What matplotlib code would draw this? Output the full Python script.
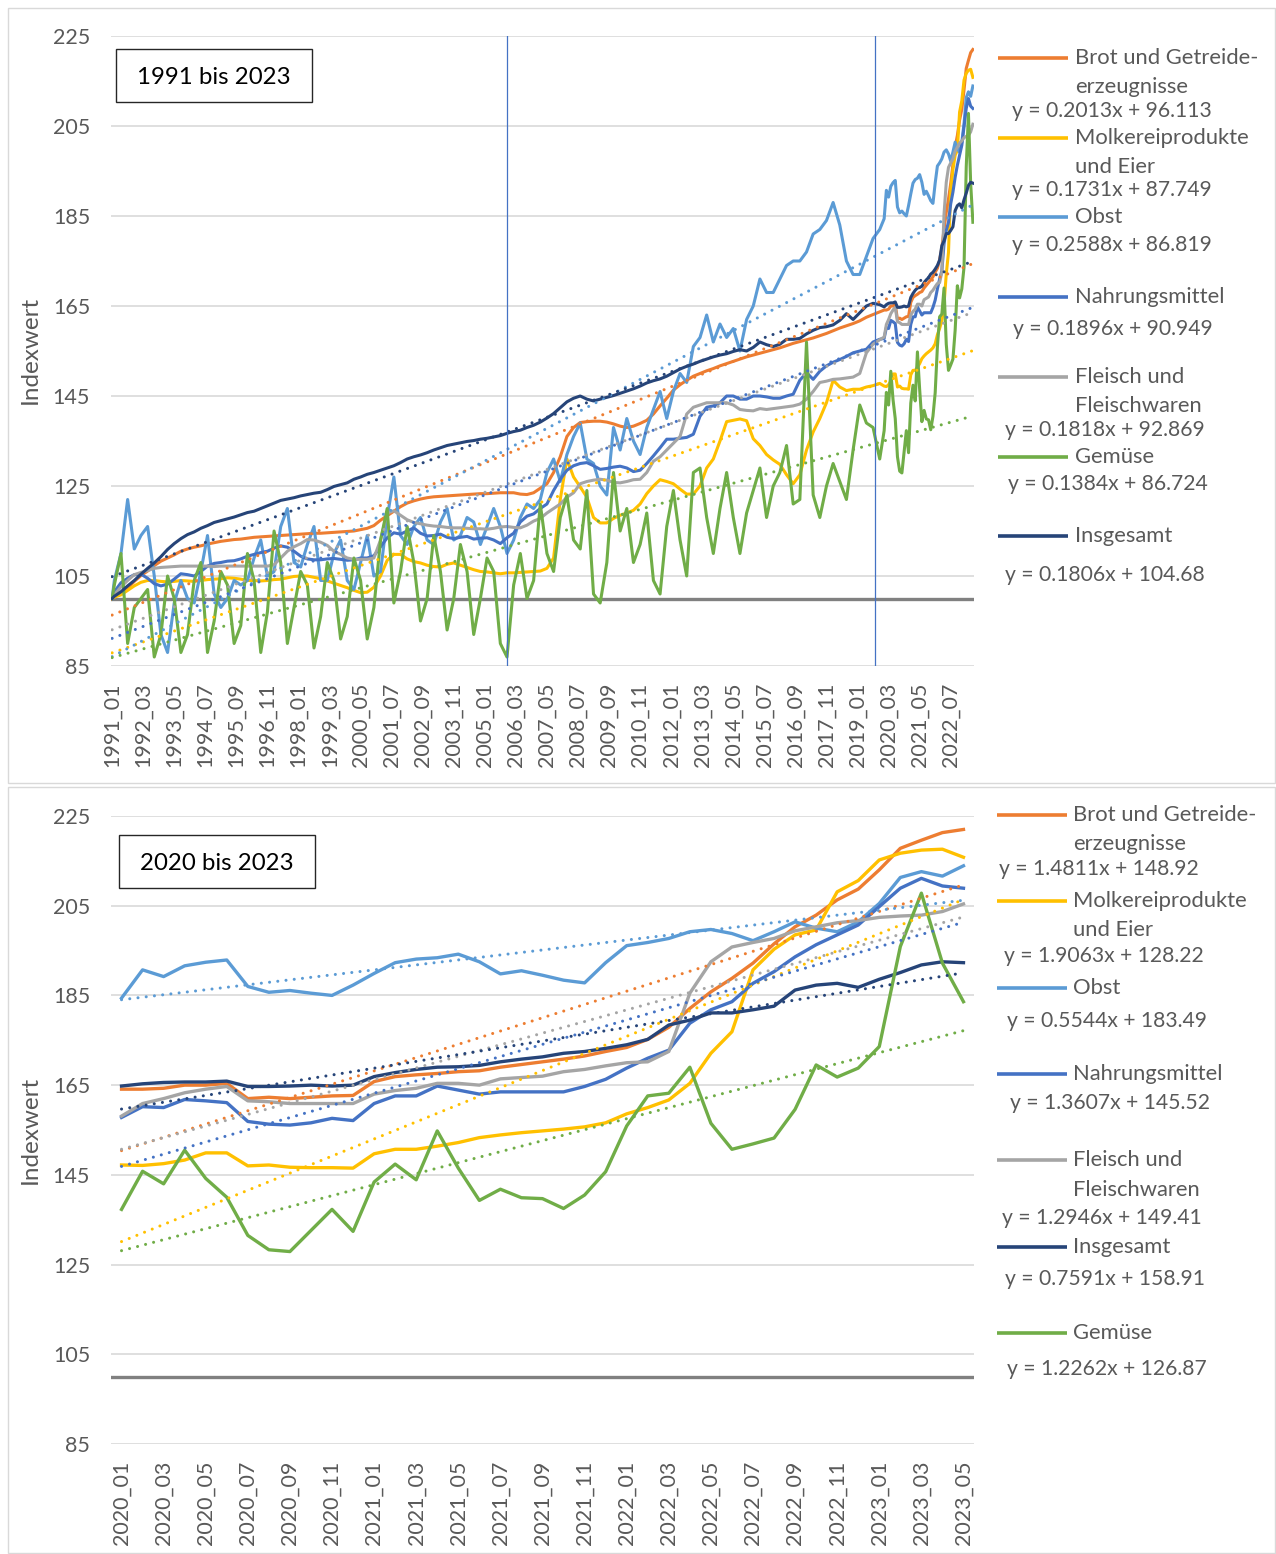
import matplotlib
matplotlib.use('Agg')
import matplotlib.pyplot as plt
from matplotlib.patches import Rectangle
from matplotlib.lines import Line2D

plt.rcParams['font.family'] = ['Lato', 'DejaVu Sans']

W, H = 1276, 1554

# ---------------- categories ----------------
months_all = [f"{y}_{m:02d}" for y in range(1991, 2024) for m in range(1, 13)][:389]
months_20 = months_all[348:]

# ---------------- series names / colours ----------------
names = ['Brot und Getreide-erzeugnisse', 'Molkereiprodukte und Eier', 'Obst',
         'Nahrungsmittel', 'Fleisch und Fleischwaren', 'Gemüse', 'Insgesamt']
colors = ['#ED7D31', '#FFC000', '#5B9BD5', '#4472C4', '#A5A5A5', '#70AD47', '#264478']

# ---------------- data 1991-2019 (Jan 1991, then Feb/May/Aug/Nov each year) -------
early_idx = [0] + list(range(1, 347, 3))

brot_early = [100.0,
 100.3, 101.3, 102.3, 103.8, 105.1, 106.1, 107.3, 108.3, 109.0, 109.7, 110.5, 111.0,
 111.4, 111.7, 112.1, 112.4, 112.7, 112.9, 113.1, 113.2, 113.4, 113.6, 113.7, 113.8,
 113.9, 114.0, 114.1, 114.2, 114.3, 114.4, 114.5, 114.5, 114.6, 114.7, 114.8, 114.9,
 115.0, 115.3, 115.6, 116.2, 117.4, 118.4, 119.4, 120.4, 121.2, 121.7, 122.1, 122.4,
 122.6, 122.7, 122.8, 122.9, 123.0, 123.1, 123.2, 123.3, 123.3, 123.4, 123.5, 123.5,
 123.5, 123.2, 123.1, 123.5, 124.5, 125.5, 128.0, 131.5, 136.0, 138.0, 139.1, 139.3,
 139.4, 139.4, 139.2, 138.8, 138.3, 138.0, 138.3, 138.9, 139.6, 141.0, 142.8, 144.5,
 146.3, 147.5, 148.5, 149.4, 150.0, 150.6, 151.1, 151.7, 152.2, 152.7, 153.2, 153.7,
 154.1, 154.5, 154.9, 155.3, 155.7, 156.2, 156.7, 157.1, 157.5, 157.9, 158.4, 158.9,
 159.5, 160.1, 160.6, 161.1, 161.7, 162.5, 163.1, 163.7]

molk_early = [100.0,
 100.3, 100.8, 101.8, 102.8, 103.6, 104.0, 104.0, 103.8, 103.7, 103.8, 104.0, 103.9,
 103.8, 104.0, 104.2, 104.3, 104.4, 104.6, 104.5, 104.3, 104.0, 104.0, 103.9, 104.0,
 104.2, 104.3, 104.6, 104.9, 105.0, 105.0, 104.7, 104.4, 103.9, 103.4, 102.9, 102.4,
 101.8, 101.3, 101.4, 102.5, 105.0, 108.5, 109.8, 109.8, 108.8, 108.2, 107.9, 107.4,
 107.1, 107.0, 107.6, 107.9, 107.4, 106.9, 106.4, 106.0, 105.9, 105.7, 105.5, 105.7,
 105.7, 105.8, 105.9, 106.0, 106.1, 106.7, 109.0, 122.0, 131.0, 127.0, 124.8, 122.5,
 118.0, 116.8, 116.8, 117.8, 118.5, 119.0, 119.6, 121.0, 123.3, 125.0, 126.4, 126.0,
 125.5, 124.3, 123.2, 123.2, 125.0, 129.0, 131.0, 135.0, 139.3, 139.6, 139.9, 139.5,
 135.5, 134.0, 132.0, 130.8, 129.8, 127.5, 125.5, 127.5, 133.0, 137.0, 140.0, 143.5,
 148.5, 147.0, 146.2, 146.5, 146.5, 147.0, 147.3, 147.8]

obst_early = [100.0,
 104.0, 110.0, 122.0, 111.0, 114.0, 116.0, 105.0, 92.0, 88.0, 99.0, 104.0, 100.0,
 99.0, 106.0, 114.0, 101.0, 98.0, 100.0, 104.0, 103.0, 104.0, 109.0, 113.0, 105.0,
 106.0, 116.0, 120.0, 108.0, 107.0, 112.0, 116.0, 104.0, 104.0, 110.0, 113.0, 104.0,
 102.0, 108.0, 114.0, 105.0, 106.0, 118.0, 127.0, 114.0, 112.0, 116.0, 118.0, 113.0,
 112.0, 117.0, 120.0, 113.0, 114.0, 118.0, 117.0, 112.0, 116.0, 120.0, 116.0, 110.0,
 113.0, 118.0, 121.0, 120.0, 122.0, 128.0, 131.0, 126.0, 132.0, 136.0, 139.0, 131.0,
 130.0, 125.0, 123.0, 138.0, 133.0, 140.0, 135.0, 132.0, 138.0, 142.0, 146.0, 140.0,
 146.0, 150.0, 148.0, 156.0, 158.0, 163.0, 157.0, 161.0, 158.0, 160.0, 155.0, 162.0,
 165.0, 171.0, 168.0, 168.0, 171.0, 174.0, 175.0, 175.0, 177.0, 181.0, 182.0, 184.0,
 188.0, 183.0, 175.0, 172.0, 172.0, 176.0, 180.0, 182.0]

nahr_early = [100.0,
 101.5, 103.5, 104.5, 105.3, 105.4, 104.5, 103.3, 102.8, 103.2, 104.3, 105.5, 105.3,
 105.0, 106.0, 107.2, 107.8, 108.0, 108.3, 108.4, 108.8, 109.4, 109.8, 110.2, 110.5,
 111.2, 111.7, 111.4, 110.5, 109.4, 108.8, 108.6, 108.6, 108.8, 108.9, 108.7, 108.5,
 108.6, 109.0, 109.0, 109.5, 111.5, 113.5, 114.6, 114.3, 115.0, 115.7, 114.5, 113.9,
 114.0, 114.3, 113.6, 113.3, 113.6, 113.8, 113.2, 113.4, 113.5, 113.0, 112.2, 113.5,
 114.5, 117.0, 118.3, 118.8, 120.0, 121.0, 124.0, 126.5, 128.5, 129.5, 130.0, 130.2,
 129.5, 128.7, 128.9, 129.2, 129.4, 129.0, 128.2, 128.5, 130.0, 131.7, 133.5, 135.4,
 135.4, 135.6, 135.8, 136.5, 140.5, 142.5, 142.8, 143.5, 145.0, 145.0, 144.3, 144.3,
 145.0, 145.0, 144.8, 144.5, 144.5, 145.0, 145.4, 148.5, 150.2, 148.7, 150.5, 151.7,
 152.5, 153.1, 153.8, 154.6, 155.0, 155.4, 157.0, 157.6]

fleisch_early = [100.0,
 100.8, 102.6, 104.0, 105.3, 105.8, 106.2, 106.7, 106.9, 107.0, 107.1, 107.2, 107.2,
 107.2, 107.2, 107.2, 107.1, 107.2, 107.2, 107.2, 107.2, 107.2, 107.2, 107.2, 107.2,
 107.5, 109.0, 110.5, 111.5, 112.2, 113.1, 113.0, 112.5, 111.8, 110.5, 109.8, 109.0,
 108.7, 108.7, 108.7, 109.0, 113.0, 119.0, 119.5, 118.5, 117.5, 116.9, 116.6, 116.3,
 116.1, 116.0, 115.8, 115.7, 115.7, 115.6, 115.5, 115.5, 115.4, 115.6, 115.9, 116.0,
 115.8, 115.7, 116.3, 117.2, 117.8, 119.0, 120.0, 121.0, 122.5, 123.5, 125.5, 126.0,
 126.3, 126.5, 126.3, 125.8, 125.7, 126.0, 126.4, 126.5, 128.0, 130.5, 131.5, 133.0,
 134.5, 136.0, 141.0, 142.5, 143.0, 143.5, 143.5, 143.5, 143.5, 143.0, 142.0, 141.8,
 141.7, 142.2, 142.0, 142.2, 142.4, 142.6, 142.8, 143.2, 144.3, 146.0, 148.0, 148.3,
 148.7, 148.8, 149.0, 149.2, 150.0, 154.6, 156.5, 157.5]

gem_early = [100.0,
 103.0, 110.0, 90.0, 98.0, 100.0, 102.0, 87.0, 92.0, 105.0, 100.0, 88.0, 92.0,
 104.0, 108.0, 88.0, 95.0, 106.0, 103.0, 90.0, 94.0, 110.0, 104.0, 88.0, 97.0,
 115.0, 108.0, 90.0, 98.0, 106.0, 103.0, 89.0, 96.0, 108.0, 104.0, 91.0, 96.0,
 109.0, 104.0, 91.0, 98.0, 113.0, 120.0, 99.0, 106.0, 116.0, 108.0, 95.0, 100.0,
 114.0, 106.0, 93.0, 100.0, 112.0, 106.0, 92.0, 100.0, 109.0, 106.0, 90.0, 87.0,
 103.0, 110.0, 100.0, 104.0, 121.0, 110.0, 106.0, 118.0, 123.0, 113.0, 111.0, 124.0,
 101.0, 99.0, 108.0, 128.0, 115.0, 120.0, 108.0, 112.0, 119.0, 104.0, 101.0, 116.0,
 124.0, 113.0, 105.0, 128.0, 129.0, 118.0, 110.0, 120.0, 128.0, 118.0, 110.0, 119.0,
 124.0, 129.0, 118.0, 125.0, 128.0, 134.0, 121.0, 122.0, 157.0, 123.0, 118.0, 125.0,
 130.0, 126.0, 122.0, 133.0, 143.0, 139.0, 138.0, 131.0]

insg_early = [100.0,
 100.5, 101.5, 102.8, 104.0, 105.4, 106.7, 107.9, 109.3, 110.9, 112.2, 113.3, 114.2,
 114.8, 115.6, 116.2, 116.9, 117.3, 117.7, 118.1, 118.6, 119.1, 119.4, 120.0, 120.6,
 121.2, 121.8, 122.1, 122.4, 122.8, 123.1, 123.4, 123.6, 124.2, 124.9, 125.3, 125.7,
 126.5, 127.0, 127.6, 128.0, 128.5, 129.0, 129.5, 130.2, 131.0, 131.5, 131.9, 132.4,
 133.0, 133.5, 134.0, 134.3, 134.6, 134.9, 135.1, 135.4, 135.6, 135.9, 136.2, 136.7,
 137.1, 137.4, 138.0, 138.5, 139.2, 140.1, 141.1, 142.4, 143.7, 144.5, 145.0, 144.3,
 143.9, 144.3, 144.7, 145.1, 145.6, 146.1, 146.6, 147.2, 147.9, 148.4, 148.8, 149.4,
 150.2, 151.0, 151.6, 152.1, 152.7, 153.2, 153.7, 154.1, 154.4, 154.9, 155.3, 155.0,
 155.8, 157.0, 156.4, 156.0, 156.5, 157.6, 157.6, 157.8, 158.8, 159.6, 160.2, 160.4,
 160.8, 161.8, 163.3, 162.0, 163.5, 165.0, 165.6, 165.3]

# ---------------- monthly data 2020_01 .. 2023_05 ----------------
brot_20 = [164.1, 164.1, 164.3, 165.0, 165.0, 165.4, 162.0, 162.3, 162.0, 162.3, 162.6, 162.7,
           165.8, 166.9, 167.3, 167.6, 168.0, 168.2, 169.0, 169.6, 170.2, 170.8, 171.5, 172.5,
           173.4, 175.2, 177.9, 182.1, 185.8, 188.8, 192.2, 196.5, 200.3, 202.9, 206.3, 208.7,
           213.0, 217.8, 219.6, 221.3, 222.0]
molk_20 = [147.2, 147.1, 147.5, 148.3, 149.9, 149.9, 147.0, 147.2, 146.7, 146.6, 146.6, 146.5,
           149.7, 150.7, 150.7, 151.4, 152.2, 153.3, 153.9, 154.4, 154.8, 155.2, 155.7, 156.6,
           158.6, 160.0, 161.7, 165.4, 172.1, 176.9, 190.7, 195.3, 198.5, 199.6, 208.1, 210.6,
           215.2, 216.7, 217.4, 217.6, 215.8]
obst_20 = [184.4, 190.7, 189.2, 191.6, 192.4, 192.9, 187.0, 185.7, 186.1, 185.5, 185.0, 187.3,
           189.9, 192.3, 193.1, 193.4, 194.2, 192.5, 189.8, 190.5, 189.5, 188.4, 187.8, 192.3,
           196.1, 196.8, 197.7, 199.2, 199.7, 198.8, 197.2, 199.2, 201.4, 200.0, 199.2, 201.4,
           205.5, 211.3, 212.6, 211.6, 213.9]
nahr_20 = [157.8, 160.2, 160.0, 161.8, 161.5, 161.1, 156.9, 156.3, 156.1, 156.6, 157.6, 157.1,
           160.9, 162.6, 162.6, 164.8, 163.9, 163.0, 163.5, 163.5, 163.5, 163.5, 164.7, 166.3,
           168.8, 171.0, 172.8, 178.8, 181.8, 183.6, 187.7, 190.3, 193.6, 196.3, 198.5, 200.7,
           204.8, 208.9, 211.1, 209.4, 208.9]
fleisch_20 = [158.1, 160.9, 162.0, 163.3, 164.1, 164.7, 161.5, 161.3, 160.9, 160.9, 160.9, 160.9,
              163.0, 163.8, 164.3, 165.4, 165.4, 165.0, 166.4, 166.7, 167.0, 168.0, 168.5, 169.3,
              170.0, 170.2, 172.5, 185.5, 192.5, 195.8, 196.8, 197.7, 199.4, 200.3, 201.2, 201.7,
              202.4, 202.7, 202.9, 203.7, 205.4]
gem_20 = [137.3, 145.8, 143.0, 150.5, 144.2, 140.0, 131.5, 128.3, 127.9, 132.6, 137.3, 132.4,
          143.4, 147.4, 143.9, 154.8, 146.5, 139.3, 141.8, 139.9, 139.7, 137.5, 140.5, 145.7,
          155.9, 162.6, 163.2, 169.0, 156.5, 150.7, 151.9, 153.2, 159.6, 169.5, 166.8, 168.8,
          173.6, 195.9, 207.8, 192.2, 183.6]
insg_20 = [164.8, 165.3, 165.6, 165.7, 165.7, 165.9, 164.7, 164.7, 164.8, 165.0, 164.8, 165.0,
           166.9, 167.8, 168.5, 169.0, 169.1, 169.4, 170.2, 170.8, 171.3, 172.1, 172.5, 173.2,
           174.0, 175.2, 178.4, 179.5, 181.1, 181.1, 181.8, 182.6, 186.2, 187.3, 187.7, 186.8,
           188.6, 190.1, 191.8, 192.5, 192.3]

# ---------------- trend line equations (as printed) ----------------
slope_top = [0.2013, 0.1731, 0.2588, 0.1896, 0.1818, 0.1384, 0.1806]
icpt_top = [96.113, 87.749, 86.819, 90.949, 92.869, 86.724, 104.68]
slope_bot = [1.4811, 1.9063, 0.5544, 1.3607, 1.2946, 1.2262, 0.7591]
icpt_bot = [148.92, 128.22, 183.49, 145.52, 149.41, 126.87, 158.91]

early = [brot_early, molk_early, obst_early, nahr_early, fleisch_early, gem_early, insg_early]
late = [brot_20, molk_20, obst_20, nahr_20, fleisch_20, gem_20, insg_20]

TXT = '#595959'


def fx(x):
    return x / W


def fy(y):
    return 1 - y / H


fig = plt.figure(figsize=(W / 100, H / 100), dpi=100)

# panel borders
for (x0, y0, x1, y1) in [(8, 8, 1275, 783), (8, 787, 1275, 1553)]:
    fig.patches.append(Rectangle((fx(x0), fy(y1)), fx(x1) - fx(x0), fy(y0) - fy(y1),
                                 transform=fig.transFigure, fill=False,
                                 edgecolor='#D9D9D9', lw=1.0))


def setup(ax, n, ticks, labels):
    ax.set_xlim(-0.5, n - 0.5)
    ax.set_ylim(85, 225)
    ax.set_yticks(range(85, 226, 20))
    ax.grid(axis='y', color='#D9D9D9', lw=1.2, zorder=0)
    ax.set_axisbelow(True)
    for s in ax.spines.values():
        s.set_visible(False)
    ax.tick_params(axis='both', length=0, colors=TXT, labelsize=15.5)
    ax.tick_params(axis='y', pad=15)
    ax.tick_params(axis='x', pad=12)
    ax.set_xticks(ticks)
    ax.set_xticklabels(labels, rotation=90)
    ax.axhline(100, color='#808080', lw=2.4, zorder=1)


dot = dict(linestyle=(0, (0.01, 2.7)), dash_capstyle='round', lw=2.2)

# ---------------- top chart ----------------
ax1 = fig.add_axes([fx(111), fy(666), fx(974) - fx(111), fy(36) - fy(666)])
n_top = len(months_all)
top_ticks = list(range(0, n_top, 14))
setup(ax1, n_top, top_ticks, [months_all[i] for i in top_ticks])
top_x = early_idx + list(range(348, 389))
for k in range(7):
    vals = early[k] + late[k]
    ax1.plot(top_x, vals, color=colors[k], lw=2.2, zorder=3, solid_joinstyle='round')
for k in range(7):
    xs = [0, n_top - 1]
    ax1.plot(xs, [slope_top[k] * (x + 1) + icpt_top[k] for x in xs], color=colors[k], zorder=4, **dot)
for xv in (178, 344):
    ax1.axvline(xv, color='#4472C4', lw=0.9, zorder=5)

# ---------------- bottom chart ----------------
ax2 = fig.add_axes([fx(111), fy(1444), fx(974) - fx(111), fy(816) - fy(1444)])
n_bot = len(months_20)
bot_ticks = list(range(0, n_bot, 2))
setup(ax2, n_bot, bot_ticks, [months_20[i] for i in bot_ticks])
bot_order = [0, 1, 2, 3, 4, 6, 5]
for k in bot_order:
    ax2.plot(range(n_bot), late[k], color=colors[k], lw=2.4, zorder=3, solid_joinstyle='round')
for k in bot_order:
    xs = [0, n_bot - 1]
    ax2.plot(xs, [slope_bot[k] * (x + 1) + icpt_bot[k] for x in xs], color=colors[k], zorder=4, **dot)

# y labels
for yc in (350, 1130):
    fig.text(fx(30), fy(yc), 'Indexwert', rotation=90, ha='center', va='center',
             fontsize=17.5, color=TXT)

# title boxes
for (x0, y0, x1, y1, t) in [(116, 49, 312, 102, '1991 bis 2023'), (119, 835, 315, 888, '2020 bis 2023')]:
    fig.patches.append(Rectangle((fx(x0), fy(y1)), fx(x1) - fx(x0), fy(y0) - fy(y1),
                                 transform=fig.transFigure, fc='white', ec='#262626', lw=1.0, zorder=10))
    fig.text(fx((x0 + x1) / 2), fy((y0 + y1) / 2 + 2), t, ha='center', va='center',
             fontsize=17.3, color='black', zorder=11)

# ---------------- legends ----------------
wrapped = [['Brot und Getreide-', 'erzeugnisse'], ['Molkereiprodukte', 'und Eier'], ['Obst'],
           ['Nahrungsmittel'], ['Fleisch und', 'Fleischwaren'], ['Gemüse'], ['Insgesamt']]

top_leg = [(0, [58, 87], (1012, 111)), (1, [138, 167], (1012, 190)), (2, [217], (1012, 245)),
           (3, [297], (1013, 329)), (4, [377, 406], (1005, 430)), (5, [457], (1008, 484)),
           (6, [536], (1005, 575))]
bot_leg = [(0, [815, 844], (999, 869)), (1, [901, 930], (1004, 956)), (2, [988], (1007, 1021)),
           (3, [1074], (1010, 1103)), (4, [1160, 1190], (1002, 1218)), (6, [1247], (1005, 1279)),
           (5, [1333], (1007, 1369))]


def draw_legend(spec, slopes, icpts, lx0, lx1, tx):
    for k, ys, (ex, ey) in spec:
        fig.add_artist(Line2D([fx(lx0), fx(lx1)], [fy(ys[0]), fy(ys[0])], transform=fig.transFigure,
                              color=colors[k], lw=2.6, solid_capstyle='butt'))
        for line, yy in zip(wrapped[k], ys):
            fig.text(fx(tx), fy(yy), line, ha='left', va='center', fontsize=15.8, color=TXT)
        fig.text(fx(ex), fy(ey), f"y = {slopes[k]}x + {icpts[k]}", ha='left', va='center',
                 fontsize=15.2, color=TXT)


draw_legend(top_leg, slope_top, icpt_top, 998, 1068, 1075)
draw_legend(bot_leg, slope_bot, icpt_bot, 997, 1067, 1073)

fig.savefig('out.png', dpi=100)
